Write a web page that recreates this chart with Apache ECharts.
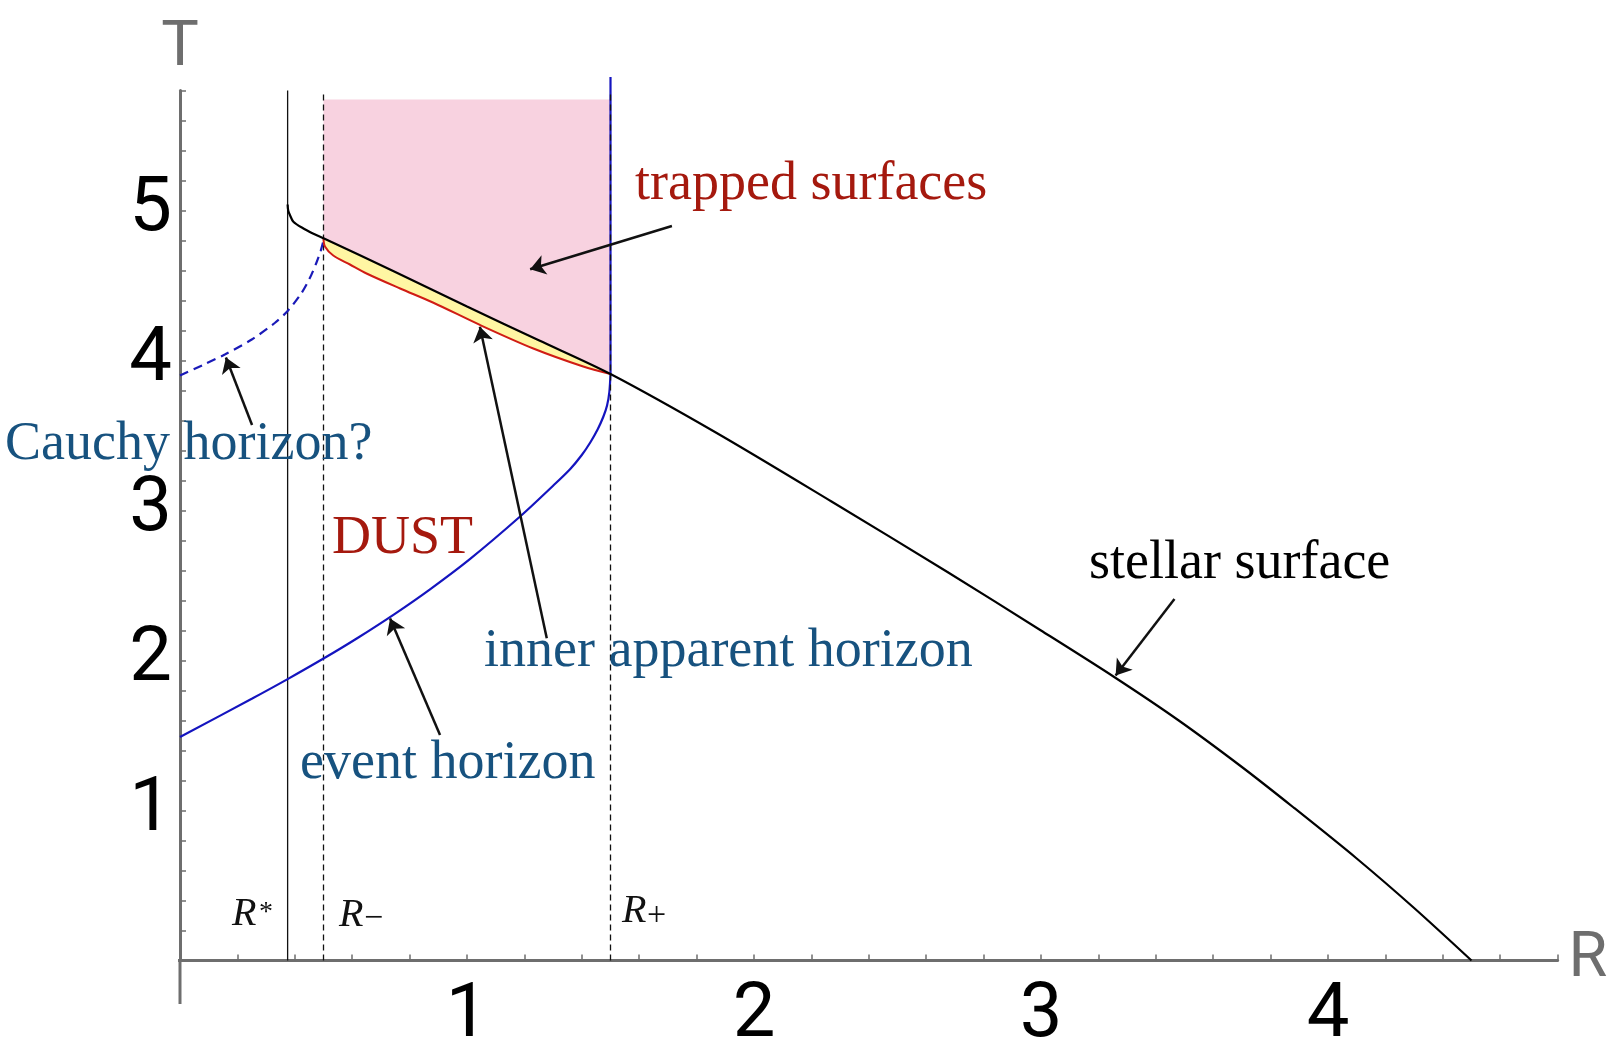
<!DOCTYPE html>
<html>
<head>
<meta charset="utf-8">
<title>Collapse diagram</title>
<script src="https://cdn.jsdelivr.net/npm/echarts@6/dist/echarts.min.js"></script>
<style>
html, body { margin: 0; padding: 0; background: #fff; }
#chart { width: 1623px; height: 1046px; }
</style>
</head>
<body>
<div id="chart"></div>
<script>
// special radii and heights
const rStar = 0.375
const rMinus = 0.5
const rPlus = 1.5
const tAxisTop = 5.8
const trappedTop = 5.74
const horizonTop = 5.89

// stellar surface
const stellarR = [0.375, 0.377, 0.383, 0.395, 0.43, 0.465, 0.5, 0.75, 1.0, 1.25, 1.5, 1.867, 2.27, 2.674, 3.0, 3.255, 3.48, 3.7, 3.88, 4.1, 4.3, 4.5]
const stellarT = [5.04, 5.0, 4.97, 4.925, 4.88, 4.845, 4.815, 4.59, 4.36, 4.135, 3.91, 3.52, 3.06, 2.59, 2.20, 1.89, 1.60, 1.29, 1.02, 0.68, 0.35, 0.0]

// inner apparent horizon (red)
const innerR = [0.5, 0.505, 0.534, 0.592, 0.65, 0.767, 0.883, 1.045, 1.231, 1.405, 1.5]
const innerT = [4.815, 4.76, 4.70, 4.64, 4.58, 4.48, 4.385, 4.237, 4.08, 3.96, 3.91]

// event horizon (blue); it goes straight up at R+ afterwards
const eventR = [0, 0.25, 0.375, 0.5, 0.62, 0.75, 0.87, 1.01, 1.185, 1.30, 1.359, 1.40, 1.43, 1.455, 1.475, 1.488, 1.496, 1.5]
const eventT = [1.49, 1.745, 1.876, 2.013, 2.152, 2.313, 2.473, 2.676, 2.96, 3.165, 3.275, 3.37, 3.455, 3.54, 3.625, 3.70, 3.79, 3.91]

// Cauchy horizon? (dashed blue)
const cauchyR = [0, 0.08, 0.156, 0.25, 0.33, 0.375, 0.42, 0.45, 0.475, 0.49, 0.5]
const cauchyT = [3.90, 3.97, 4.04, 4.14, 4.25, 4.33, 4.44, 4.54, 4.65, 4.73, 4.80]

// axis line stubs past the origin
const rAxisStub = [-0.094, 0]
const tAxisStub = [-0.29, 0]

// arrows: [tailR, tailT, headR, headT]
const arrows = [
  [1.714, 4.897, 1.22, 4.608],   // trapped surfaces
  [0.251, 3.57, 0.16, 4.02],     // Cauchy horizon?
  [1.278, 2.148, 1.045, 4.225],  // inner apparent horizon
  [0.906, 1.503, 0.732, 2.28],   // event horizon
  [3.465, 2.41, 3.26, 1.9],      // stellar surface
]

const pairs = (rs, ts) => rs.map((r, i) => [r, ts[i]])

// pink: between stellar surface and the top, R- .. R+
const stellarIn = pairs(stellarR, stellarT).filter(p => p[0] >= rMinus && p[0] <= rPlus)
const pinkPoly = [[rMinus, trappedTop], [rPlus, trappedTop]].concat(stellarIn.slice().reverse())
// yellow: between stellar surface and inner apparent horizon
const yellowPoly = stellarIn.concat(pairs(innerR, innerT).reverse())

const chart = echarts.init(document.getElementById('chart'))

const axisGray = '#6e6e6e'
const onlyInts = v => (Math.abs(v - Math.round(v)) < 1e-6 && Math.round(v) > 0) ? String(Math.round(v)) : ''

function curve (name, data, color, width, type, z, smooth) {
  return {
    name,
    type: 'line',
    data,
    showSymbol: false,
    symbol: 'none',
    clip: false,
    silent: true,
    smooth: smooth || false,
    z,
    lineStyle: { color, width, type: type || 'solid' },
  }
}

function polygon (points, fill, z) {
  return {
    type: 'custom',
    data: [points[0]],
    silent: true,
    z,
    renderItem (params, api) {
      return {
        type: 'polygon',
        shape: { points: points.map(p => api.coord(p)) },
        style: { fill },
      }
    },
  }
}

const serif = '"Liberation Serif", "Times New Roman", serif'
const blueText = '#17527f'
const redText = '#a5190e'

function label (str, x, baseline, color, size) {
  size = size || 54
  return {
    type: 'text',
    x,
    y: baseline - 0.3375 * size,
    silent: true,
    z: 100,
    style: {
      text: str,
      fill: color,
      font: size + 'px ' + serif,
      align: 'left',
      verticalAlign: 'middle',
      textAlign: 'left',
      textVerticalAlign: 'middle',
    },
  }
}

function small (str, x, yMid, size, italic) {
  return {
    type: 'text',
    x,
    y: yMid,
    silent: true,
    z: 100,
    style: {
      text: str,
      fill: '#111',
      font: (italic ? 'italic ' : '') + size + 'px ' + serif,
      align: 'left',
      verticalAlign: 'middle',
      textAlign: 'left',
      textVerticalAlign: 'middle',
    },
  }
}

const option = {
  animation: false,
  backgroundColor: '#fff',
  grid: { left: 180, right: 65.4, top: 90.5, bottom: 85.5, containLabel: false, outerBoundsMode: 'none' },
  xAxis: {
    type: 'value',
    min: 0,
    max: 4.8,
    interval: 0.2,
    name: 'R',
    nameLocation: 'end',
    nameGap: 11,
    nameTextStyle: { fontSize: 63, color: axisGray, fontFamily: 'Roboto', padding: [8, 0, 0, 0] },
    axisLine: { onZero: true, lineStyle: { color: axisGray, width: 3 } },
    axisTick: { inside: true, length: 6, lineStyle: { color: axisGray, width: 1.5 } },
    axisLabel: { formatter: onlyInts, fontSize: 76, fontFamily: 'Roboto', color: '#000', margin: 18 },
    splitLine: { show: false },
  },
  yAxis: {
    type: 'value',
    min: 0,
    max: tAxisTop,
    interval: 0.2,
    name: 'T',
    nameLocation: 'end',
    nameGap: 10,
    nameTextStyle: { fontSize: 63, color: axisGray, fontFamily: 'Roboto' },
    axisLine: { onZero: true, lineStyle: { color: axisGray, width: 3 } },
    axisTick: { inside: true, length: 6, lineStyle: { color: axisGray, width: 1.5 } },
    axisLabel: { formatter: onlyInts, fontSize: 76, fontFamily: 'Roboto', color: '#000', margin: 8 },
    splitLine: { show: false },
  },
  series: [
    polygon(pinkPoly, '#f8d2e0', 1),
    polygon(yellowPoly, '#fff6a3', 2),
    curve('axis stub R', rAxisStub.map(r => [r, 0]), axisGray, 3, 'solid', 3),
    curve('axis stub T', tAxisStub.map(t => [0, t]), axisGray, 3, 'solid', 3),
    curve('R*', [[rStar, 0], [rStar, tAxisTop]], '#111', 1.3, 'solid', 3),
    curve('R-', [[rMinus, 0], [rMinus, tAxisTop]], '#111', 1.3, [6, 4], 3),
    curve('Cauchy horizon', pairs(cauchyR, cauchyT), '#1a1ab8', 2.2, [9, 6], 4, 0.3),
    curve('event horizon', pairs(eventR, eventT), '#1414bf', 2.2, 'solid', 4, 0.3),
    curve('event horizon top', [[rPlus, eventT[eventT.length - 1]], [rPlus, horizonTop]], '#1414bf', 2.2, 'solid', 4),
    curve('R+', [[rPlus, 0], [rPlus, tAxisTop]], '#111', 1.3, [6, 4], 5),
    curve('inner apparent horizon', pairs(innerR, innerT), '#d01c14', 2, 'solid', 5, 0.3),
    Object.assign(curve('stellar surface', pairs(stellarR, stellarT), '#000', 2.2, 'solid', 6, 0.3), {
      markLine: {
        silent: true,
        animation: false,
        symbol: ['none', 'arrow'],
        symbolSize: 15,
        label: { show: false },
        lineStyle: { color: '#111', width: 2.5, type: 'solid' },
        emphasis: { disabled: true },
        data: arrows.map(a => [{ coord: [a[0], a[1]] }, { coord: [a[2], a[3]] }]),
      },
    }),
  ],
  graphic: {
    elements: [
      label('trapped surfaces', 635, 203, redText),
      label('Cauchy horizon?', 5, 463, blueText),
      label('DUST', 332, 557, redText),
      label('inner apparent horizon', 484, 670, blueText),
      label('event horizon', 300, 782, blueText),
      label('stellar surface', 1089, 582, '#000'),
      small('R', 232, 914, 40, true),
      small('*', 259, 913, 28, false),
      small('R', 339, 915, 40, true),
      small('\u2212', 364, 919, 34, false),
      small('R', 622, 911, 40, true),
      small('+', 647, 916, 34, false),
    ],
  },
}

chart.setOption(option)
</script>
</body>
</html>
